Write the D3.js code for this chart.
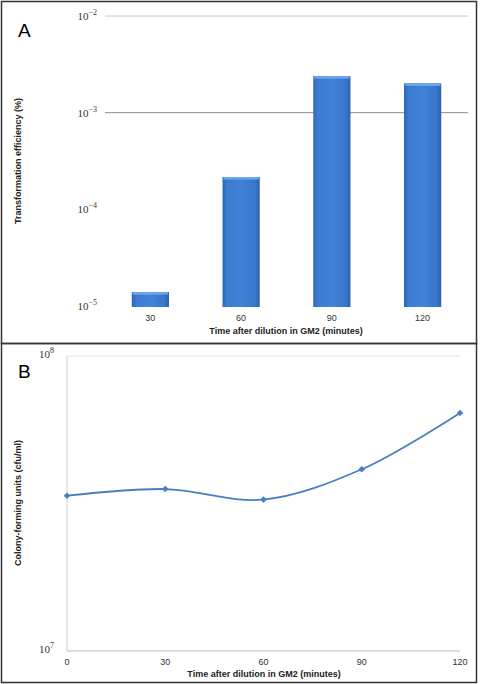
<!DOCTYPE html>
<html>
<head>
<meta charset="utf-8">
<script src="https://cdn.jsdelivr.net/npm/d3@7"></script>
<style>
  body { margin: 0; background: #fff; }
  text { font-family: "Liberation Sans", Arial, sans-serif; }
  .exp { font-family: "Liberation Serif", "DejaVu Serif", serif; fill: #333; }
</style>
</head>
<body>
<svg width="480" height="684"></svg>
<script>
// panel A data
const timesA = ['30', '60', '90', '120'];
const efficiency = [1.39e-5, 2.16e-4, 2.39e-3, 2.01e-3];
const expTicksA = [-5, -4, -3, -2];
const gridExpA = [-3, -2];

// panel B data
const timesB = [0, 30, 60, 90, 120];
const cfu = [3.36e7, 3.54e7, 3.26e7, 4.13e7, 6.41e7];
const expTicksB = [7, 8];

let svg = d3.select('svg');

// frames
svg.append('rect')
  .attr('x', 1.5).attr('y', 1.5)
  .attr('width', 475).attr('height', 342)
  .attr('fill', 'none').attr('stroke', '#333').attr('stroke-width', 1.5);
svg.append('rect')
  .attr('x', 1.5).attr('y', 343.5)
  .attr('width', 475).attr('height', 339)
  .attr('fill', 'none').attr('stroke', '#333').attr('stroke-width', 1.5);

// gradient for bars
let defs = svg.append('defs');
let grad = defs.append('linearGradient').attr('id', 'barGrad')
  .attr('x1', 0).attr('x2', 1).attr('y1', 0).attr('y2', 0);
grad.append('stop').attr('offset', '0%').attr('stop-color', '#2f67b8');
grad.append('stop').attr('offset', '12%').attr('stop-color', '#3b7bd0');
grad.append('stop').attr('offset', '50%').attr('stop-color', '#4083d8');
grad.append('stop').attr('offset', '88%').attr('stop-color', '#3876c9');
grad.append('stop').attr('offset', '100%').attr('stop-color', '#2c61ad');

function expLabel(g, x, y, exp, anchor) {
  let t = g.append('text')
    .attr('class', 'exp')
    .attr('x', x).attr('y', y)
    .attr('text-anchor', anchor)
    .style('font-size', '11px');
  t.append('tspan').text('10');
  t.append('tspan').attr('dy', -5).style('font-size', '8px')
    .text(exp < 0 ? '\u2212' + (-exp) : exp);
}

// ---------- Panel A ----------
let xA = d3.scaleBand().domain(timesA).range([105, 468]).paddingInner(0.59).paddingOuter(0.295);
let yA = d3.scaleLog().domain([1e-5, 1e-2]).range([306, 16]);

let gA = svg.append('g');

gA.selectAll('.grid')
  .data(gridExpA)
  .enter().append('line')
    .attr('x1', 105).attr('x2', 468)
    .attr('y1', e => yA(Math.pow(10, e)))
    .attr('y2', e => yA(Math.pow(10, e)))
    .attr('stroke', e => e === -2 ? '#c8c8c8' : '#8c8c8c')
    .attr('stroke-width', 1);

expTicksA.forEach(e => expLabel(gA, 97, yA(Math.pow(10, e)) + 4, e, 'end'));

let bars = gA.selectAll('.bar')
  .data(efficiency)
  .enter().append('g');

bars.append('rect')
  .attr('x', (d, i) => xA(timesA[i]))
  .attr('y', d => yA(d))
  .attr('width', xA.bandwidth())
  .attr('height', d => yA(1e-5) - yA(d) + 1)
  .attr('fill', 'url(#barGrad)');
bars.append('rect')
  .attr('x', (d, i) => xA(timesA[i]) + 1)
  .attr('y', d => yA(d))
  .attr('width', xA.bandwidth() - 2)
  .attr('height', 2.5)
  .attr('fill', '#6ea6ea');

gA.selectAll('.xlab')
  .data(timesA)
  .enter().append('text')
    .attr('x', d => xA(d) + xA.bandwidth() / 2)
    .attr('y', 321)
    .attr('text-anchor', 'middle')
    .style('font-size', '9px')
    .attr('fill', '#333')
    .text(d => d);

gA.append('text')
  .attr('x', 286).attr('y', 334)
  .attr('text-anchor', 'middle')
  .style('font-size', '9px').style('font-weight', 'bold')
  .attr('fill', '#222')
  .text('Time after dilution in GM2 (minutes)');

gA.append('text')
  .attr('transform', 'translate(21, 161) rotate(-90)')
  .attr('text-anchor', 'middle')
  .style('font-size', '9px').style('font-weight', 'bold')
  .attr('fill', '#222')
  .text('Transformation efficiency (%)');

gA.append('text')
  .attr('x', 18).attr('y', 37)
  .style('font-size', '19px')
  .text('A');

// ---------- Panel B ----------
let xB = d3.scaleLinear().domain([0, 120]).range([67, 460]);
let yB = d3.scaleLog().domain([1e7, 1e8]).range([651, 356]);

let gB = svg.append('g');

gB.append('line')
  .attr('x1', 67).attr('x2', 460)
  .attr('y1', yB(1e8)).attr('y2', yB(1e8))
  .attr('stroke', '#e2e2e2');
gB.append('line')
  .attr('x1', 67).attr('x2', 67)
  .attr('y1', yB(1e8)).attr('y2', yB(1e7))
  .attr('stroke', '#d0d0d0');
gB.append('line')
  .attr('x1', 67).attr('x2', 460)
  .attr('y1', yB(1e7)).attr('y2', yB(1e7))
  .attr('stroke', '#b8b8b8');

expTicksB.forEach(e => expLabel(gB, 54, yB(Math.pow(10, e)) + 2, e, 'end'));

gB.selectAll('.xlab')
  .data(timesB)
  .enter().append('text')
    .attr('x', d => xB(d))
    .attr('y', 665)
    .attr('text-anchor', 'middle')
    .style('font-size', '9px')
    .attr('fill', '#333')
    .text(d => d);

let line = d3.line()
  .x((d, i) => xB(timesB[i]))
  .y(d => yB(d))
  .curve(d3.curveCatmullRom.alpha(0.5));

gB.append('path')
  .datum(cfu)
  .attr('d', line)
  .attr('fill', 'none')
  .attr('stroke', '#4a7ebe')
  .attr('stroke-width', 1.8);

gB.selectAll('.pt')
  .data(cfu)
  .enter().append('path')
    .attr('d', d3.symbol().type(d3.symbolSquare).size(22))
    .attr('transform', (d, i) => `translate(${xB(timesB[i])}, ${yB(d)}) rotate(45)`)
    .attr('fill', '#4a7ebe');

gB.append('text')
  .attr('x', 264).attr('y', 677)
  .attr('text-anchor', 'middle')
  .style('font-size', '9px').style('font-weight', 'bold')
  .attr('fill', '#222')
  .text('Time after dilution in GM2 (minutes)');

gB.append('text')
  .attr('transform', 'translate(21, 503) rotate(-90)')
  .attr('text-anchor', 'middle')
  .style('font-size', '9px').style('font-weight', 'bold')
  .attr('fill', '#222')
  .text('Colony-forming units (cfu/ml)');

gB.append('text')
  .attr('x', 18).attr('y', 378)
  .style('font-size', '19px')
  .text('B');
</script>
</body>
</html>
